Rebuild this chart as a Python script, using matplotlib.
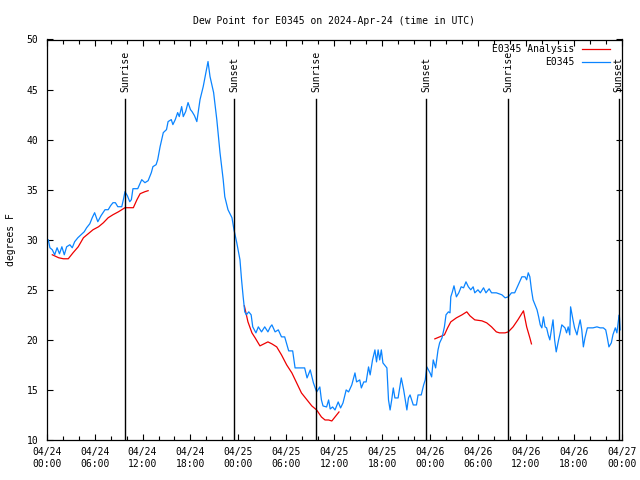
import numpy as np
import matplotlib
matplotlib.use("Agg")
import matplotlib.pyplot as plt
import matplotlib.dates as mdates

# hours since 2024-04-24 00:00 UTC, dew point in F
obs_hours = [0.0, 0.2, 0.4, 0.7, 1.0, 1.3, 1.6, 1.9, 2.2, 2.5, 2.9, 3.2, 3.5, 3.9, 4.3, 4.7,
             5.0, 5.4, 5.7, 6.0, 6.4, 6.8, 7.3, 7.7, 8.0, 8.3, 8.6, 8.9, 9.4, 9.6, 9.8, 10.1,
             10.4, 10.6, 10.8, 11.4, 11.9, 12.3, 12.7, 13.1, 13.3, 13.7, 13.9, 14.2, 14.6, 15.0,
             15.2, 15.6, 15.8, 16.1, 16.4, 16.6, 16.9, 17.1, 17.4, 17.7, 18.0, 18.2, 18.5, 18.8,
             19.2, 19.6, 20.0, 20.2, 20.45, 20.9, 21.3, 21.7, 22.1, 22.3, 22.7, 23.2, 23.45, 23.8,
             24.2, 24.4, 24.6, 24.8, 25.0, 25.3, 25.6, 25.8, 26.2, 26.5, 26.9, 27.3, 27.7, 28.0,
             28.2, 28.6, 29.0, 29.4, 29.8, 30.3, 30.8, 31.1, 32.3, 32.6, 33.0, 33.4, 33.8, 34.2,
             34.4, 34.6, 35.05, 35.3, 35.5, 35.8, 36.1, 36.5, 36.8, 37.1, 37.5, 37.8, 38.2, 38.6,
             38.8, 39.2, 39.4, 39.7, 40.0, 40.3, 40.5, 40.8, 41.1, 41.3, 41.5, 41.7, 41.9, 42.1,
             42.6, 42.8, 43.0, 43.2, 43.4, 43.6, 44.0, 44.4, 44.7, 44.9, 45.1, 45.3, 45.5, 45.9,
             46.3, 46.5, 46.9, 47.2, 47.4, 47.6, 48.0, 48.2, 48.4, 48.7, 49.0, 49.2, 49.5, 49.8,
             50.0, 50.3, 50.5, 50.6, 50.8, 51.0, 51.3, 51.6, 51.9, 52.2, 52.5, 52.8, 53.1, 53.4,
             53.6, 54.0, 54.3, 54.7, 55.0, 55.4, 55.7, 56.3, 57.0, 57.4, 57.8, 58.2, 58.6, 59.0,
             59.5, 59.9, 60.1, 60.3, 60.5, 60.7, 60.9, 61.4, 61.6, 61.8, 62.0, 62.2, 62.4, 62.6,
             62.8, 63.0, 63.2, 63.4, 63.6, 63.8, 64.1, 64.3, 64.5, 64.9, 65.1, 65.3, 65.5, 65.6,
             65.9, 66.1, 66.4, 66.6, 66.8, 67.0, 67.2, 67.4, 67.7, 68.4, 68.9, 69.3, 69.7, 70.0,
             70.2, 70.4, 70.7, 70.9, 71.2, 71.4, 71.6, 71.7, 71.8]
obs_dewpt = [30.0, 30.0, 29.2, 29.0, 28.5, 29.2, 28.6, 29.3, 28.5, 29.3, 29.5, 29.2, 29.8, 30.2, 30.5, 30.8,
             31.2, 31.6, 32.2, 32.7, 31.8, 32.4, 33.0, 33.0, 33.4, 33.7, 33.7, 33.3, 33.3, 34.0, 34.8, 34.4,
             33.8, 34.0, 35.1, 35.1, 36.0, 35.7, 35.9, 36.7, 37.3, 37.5, 38.0, 39.3, 40.7, 41.0,
             41.8, 42.0, 41.5, 42.0, 42.7, 42.3, 43.3, 42.3, 42.8, 43.7, 43.0, 42.8, 42.4, 41.8,
             44.0, 45.3, 47.0, 47.8, 46.3, 44.7, 42.0, 38.7, 36.0, 34.3, 33.0, 32.2, 31.0, 29.7,
             28.0, 26.0, 24.3, 22.8, 22.5, 22.8, 22.5, 21.3, 20.7, 21.3, 20.8, 21.3, 20.8, 21.3,
             21.5, 20.8, 21.0, 20.3, 20.3, 18.9, 18.9, 17.2, 17.2, 16.2, 17.0, 15.7, 14.8, 15.3,
             14.0, 13.4, 13.3, 14.0, 13.1, 13.3, 13.0, 13.8, 13.2, 13.7, 15.0, 14.8, 15.5, 16.7,
             15.8, 16.0, 15.2, 15.8, 15.8, 17.3, 16.5, 18.0, 19.0, 17.8, 19.0, 18.0, 19.0, 17.7,
             17.2, 14.0, 13.0, 14.0, 15.2, 14.2, 14.2, 16.2, 15.0, 14.0, 13.0, 14.2, 14.5, 13.5,
             13.5, 14.5, 14.5, 15.5, 16.0, 17.3, 16.7, 16.3, 18.0, 17.2, 19.0, 19.7, 20.2, 21.3,
             22.5, 22.8, 22.7, 24.3, 24.8, 25.4, 24.3, 24.7, 25.3, 25.2, 25.8, 25.3, 25.0, 25.3,
             24.7, 25.0, 24.7, 25.2, 24.7, 25.1, 24.7, 24.7, 24.5, 24.2, 24.3, 24.7, 24.7, 25.4,
             26.3, 26.3, 26.0, 26.7, 26.3, 25.0, 24.0, 23.0, 22.3, 21.5, 21.2, 22.3, 21.3, 21.2,
             20.5, 20.0, 21.0, 22.0, 20.0, 18.8, 20.0, 20.7, 21.5, 21.2, 20.7, 21.3, 20.5, 23.3,
             22.0, 21.2, 20.5, 21.3, 22.0, 21.0, 19.3, 20.2, 21.2, 21.2, 21.3, 21.2, 21.2, 21.0,
             20.2, 19.3, 19.7, 20.5, 21.2, 20.7, 22.0, 22.5, 21.0]

# analysis series, NaN marks the gaps
ana_hours = [0.7, 1.5, 2.1, 2.7, 3.3, 3.95, 4.6, 5.2, 5.8, 6.5, 7.1, 7.7, 8.3, 9.0, 9.8, 10.85,
             11.3, 11.7, 12.3, 12.7, 18.0,
             24.75, 25.2, 25.7, 26.1, 26.7, 27.7, 28.2, 28.8, 29.4, 30.05, 30.7, 31.3, 31.9, 32.6,
             33.2, 33.8, 34.4, 34.85, 35.3, 35.7, 36.1, 36.6, 42.0,
             48.6, 49.2, 49.8, 50.2, 50.6, 51.3, 52.0, 52.6, 53.0, 53.6, 54.5, 55.1, 55.7, 56.3,
             56.7, 57.4, 57.8, 58.4, 59.0, 59.7, 60.1, 60.5, 60.7]
ana_dewpt = [28.5, 28.2, 28.1, 28.1, 28.7, 29.3, 30.2, 30.6, 31.0, 31.3, 31.7, 32.2, 32.5, 32.8, 33.2, 33.2,
             34.0, 34.6, 34.8, 34.9, np.nan,
             23.4, 21.8, 20.7, 20.2, 19.4, 19.8, 19.6, 19.3, 18.5, 17.5, 16.7, 15.7, 14.7, 14.0,
             13.4, 13.0, 12.3, 12.0, 12.0, 11.9, 12.3, 12.8, np.nan,
             20.1, 20.3, 20.5, 21.2, 21.8, 22.2, 22.5, 22.8, 22.4, 22.0, 21.9, 21.7, 21.3, 20.8,
             20.7, 20.7, 20.8, 21.3, 22.0, 22.9, 21.3, 20.2, 19.6]

sun_hours = [9.8, 23.48, 33.75, 47.5, 57.77, 71.6]
sun_labels = ["Sunrise", "Sunset", "Sunrise", "Sunset", "Sunrise", "Sunset"]

start = np.datetime64("2024-04-24T00:00")


def to_time(hours):
  return start + (np.array(hours) * 3600).astype("timedelta64[s]")


plt.rcParams["font.family"] = "DejaVu Sans Mono"
plt.rcParams["font.size"] = 7

fig = plt.figure(figsize=(6.4, 4.8), dpi=100)
ax = fig.add_axes([46.7 / 640, 40 / 480, 575 / 640, 400.5 / 480])

ax.plot(to_time(ana_hours), ana_dewpt, color="#ee0000", lw=0.9, label="E0345 Analysis")
ax.plot(to_time(obs_hours), obs_dewpt, color="#0a84ff", lw=0.9, label="E0345")

for h, lab in zip(sun_hours, sun_labels):
  t = to_time([h])[0]
  ax.plot([t, t], [10, 44.1], color="black", lw=1.0)  # event line
  ax.text(t, 44.8, lab, rotation=90, ha="center", va="bottom")

ax.set_xlim(to_time([0])[0], to_time([72])[0])
ax.set_ylim(10, 50)
ax.set_yticks(range(10, 51, 5))
ax.xaxis.set_major_locator(mdates.HourLocator(byhour=range(0, 24, 6)))
ax.xaxis.set_minor_locator(mdates.HourLocator(byhour=range(0, 24, 2)))
ax.xaxis.set_major_formatter(mdates.DateFormatter("%m/%d\n%H:%M"))
ax.tick_params(which="both", direction="in", top=True, right=True, width=0.8)
ax.tick_params(which="major", length=4.5)
ax.tick_params(which="minor", length=3)
ax.tick_params(axis="y", pad=6)
ax.tick_params(axis="x", pad=5)
for sp in ax.spines.values():
  sp.set_linewidth(0.9)

ax.set_title("Dew Point for E0345 on 2024-Apr-24 (time in UTC)", pad=11, fontsize=7)
ax.set_ylabel("degrees F")
ax.yaxis.set_label_coords(-0.054, 0.5)

ax.legend(loc="upper right", bbox_to_anchor=(610 / 640, 436 / 480), bbox_transform=fig.transFigure,
          frameon=False, markerfirst=False, borderaxespad=0, borderpad=0,
          handlelength=2.9, handletextpad=0.8, labelspacing=0.35)

fig.savefig("out.png", dpi=100)
